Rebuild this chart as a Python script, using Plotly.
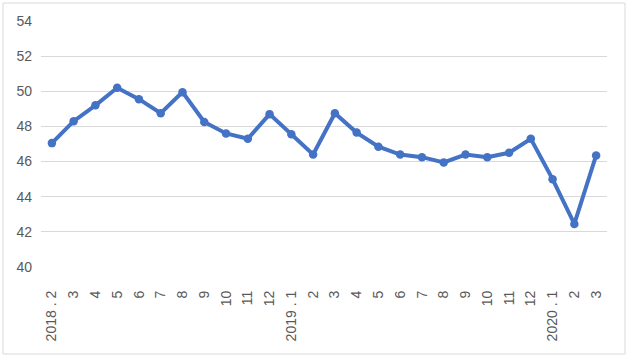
import plotly.graph_objects as go

labels = ["2018 . 2", "3", "4", "5", "6", "7", "8", "9", "10", "11", "12",
          "2019 . 1", "2", "3", "4", "5", "6", "7", "8", "9", "10", "11", "12",
          "2020 . 1", "2", "3"]
values = [47.05, 48.3, 49.2, 50.2, 49.55, 48.75, 49.95, 48.25, 47.6, 47.3, 48.7,
          47.55, 46.4, 48.75, 47.65, 46.85, 46.4, 46.25, 45.95, 46.4, 46.25, 46.5, 47.3,
          45.0, 42.45, 46.35]
x_idx = list(range(len(labels)))

W, H = 629, 360
L, R, T, B = 41, 22, 21, 93
pw, ph = W - L - R, H - T - B

def px(x):
    return (x - L) / pw

def py(y):
    return (H - B - y) / ph

fig = go.Figure()
fig.add_trace(go.Scatter(
    x=x_idx, y=values, mode="lines+markers",
    line=dict(color="#4472C4", width=4),
    marker=dict(color="#4472C4", size=8.5),
    showlegend=False,
))

fig.update_layout(
    width=W, height=H,
    margin=dict(l=L, r=R, t=T, b=B),
    paper_bgcolor="white", plot_bgcolor="white",
    font=dict(family="Liberation Sans, Arial, sans-serif", color="#595959", size=13),
    xaxis=dict(
        tickmode="array", tickvals=x_idx, ticktext=labels,
        range=[-0.5, len(labels) - 0.5],
        tickangle=-90, showgrid=False, zeroline=False, showline=False,
        ticks="", ticklabelstandoff=20,
        tickfont=dict(size=14, color="#595959"),
    ),
    yaxis=dict(
        range=[40, 54], tickvals=[40, 42, 44, 46, 48, 50, 52, 54],
        showgrid=True, gridcolor="#D9D9D9", gridwidth=1.3,
        zeroline=False, showline=False, ticks="", ticklabelstandoff=8,
        tickfont=dict(size=14, color="#595959"),
    ),
    shapes=[dict(
        type="rect", xref="paper", yref="paper",
        x0=px(3), x1=px(625), y0=py(354), y1=py(3),
        line=dict(color="#D9D9D9", width=1), fillcolor="rgba(0,0,0,0)",
        layer="below",
    )],
)

fig.write_html("out.html")
